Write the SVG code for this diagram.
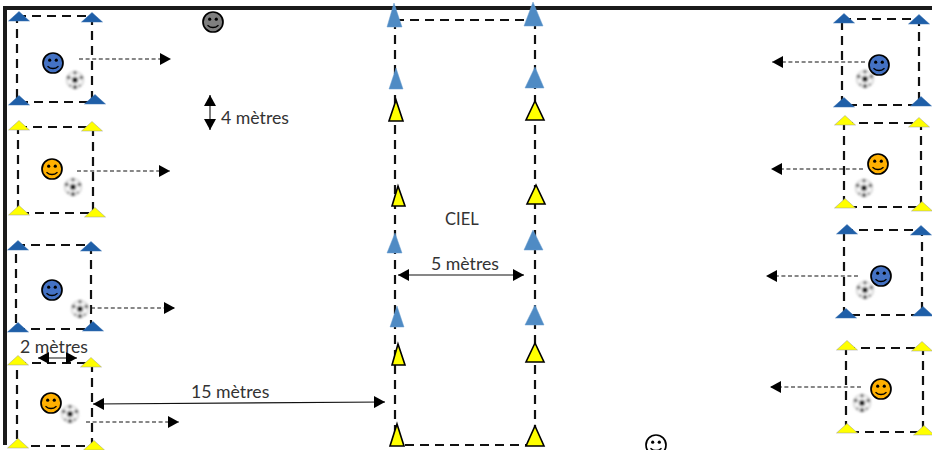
<svg xmlns="http://www.w3.org/2000/svg" width="932" height="450" viewBox="0 0 932 450">
<style>
text{font-family:Lato,"Open Sans","Liberation Sans",sans-serif;font-size:17.7px;fill:#333}
.d{fill:none;stroke:#111;stroke-width:2.2;stroke-dasharray:9 6}
.a{fill:none;stroke:#111;stroke-width:1.1;stroke-dasharray:4 2.6}
.s{fill:none;stroke:#111;stroke-width:1.1}
.b{fill:#1f5fa8;stroke:#3a70b0;stroke-width:.5}
.y{fill:#ff0;stroke:#999;stroke-width:.5}
.lb{fill:#4f8bc4;stroke:#6a9fd0;stroke-width:.5}
.yk{fill:#ff0;stroke:#000;stroke-width:1.6}
</style>
<defs>
<marker id="ah" markerWidth="12" markerHeight="12" refX="11" refY="6" orient="auto-start-reverse" markerUnits="userSpaceOnUse"><path d="M0 0L11 6L0 12Z" fill="#000"/></marker>
<filter id="blur" x="-20%" y="-20%" width="140%" height="140%"><feGaussianBlur stdDeviation="0.8"/></filter>
<g id="ball" filter="url(#blur)"><circle r="9.3" fill="#d8d8d8"/><circle r="7.8" fill="#f4f4f4"/><circle r="2.9" fill="#222"/><circle cx="-6.3" cy="-2.6" r="2" fill="#777"/><circle cx="6.3" cy="-2.6" r="2" fill="#777"/><circle cx="0" cy="7" r="2.2" fill="#666"/><circle cx="-4.6" cy="5.6" r="1.4" fill="#999"/><circle cx="4.6" cy="5.6" r="1.4" fill="#999"/><circle cx="0" cy="-7.2" r="2" fill="#888"/></g>
<g id="face"><circle r="10" stroke="#000" stroke-width="1.7"/><circle cx="-3.3" cy="-2.8" r="1.6" fill="#000"/><circle cx="3.3" cy="-2.8" r="1.6" fill="#000"/><path d="M-5.5 3.2Q0 8 5.5 3.2" fill="none" stroke="#000" stroke-width="1.4"/></g>
<path id="tb" d="M-10.5 0L0-9.5L10.5 0Z"/>
</defs>
<rect width="932" height="450" fill="#fff"/>
<g id="frame"><rect x="3" y="6" width="929" height="4" fill="#1a1a1a"/><rect x="3" y="6" width="4" height="439" fill="#1a1a1a"/></g>
<g id="connectors">
<path class="d" d="M17 16H92V102H17Z"/><path class="d" d="M18 127H93V213H18Z"/><path class="d" d="M16 245H91V329H16Z"/><path class="d" d="M17 363H92V446H17Z"/>
<path class="d" d="M842 19H919V105H842Z"/><path class="d" d="M844 123H921V207H844Z"/><path class="d" d="M844 230H922V315H844Z"/><path class="d" d="M846 348H923V432H846Z"/>
<path class="d" d="M395 20H535M395 20V445H535M535 20V445"/>
<path class="a" d="M79 59H171" marker-end="url(#ah)"/><path class="a" d="M77 171H170" marker-end="url(#ah)"/><path class="a" d="M91 308H175" marker-end="url(#ah)"/><path class="a" d="M86 422H179" marker-end="url(#ah)"/>
<path class="a" d="M865 62H772" marker-end="url(#ah)"/><path class="a" d="M863 169H771" marker-end="url(#ah)"/><path class="a" d="M858 276H766" marker-end="url(#ah)"/><path class="a" d="M861 387H770" marker-end="url(#ah)"/>
<path class="s" d="M210 95V130" marker-start="url(#ah)" marker-end="url(#ah)"/>
<path class="s" d="M38 358H77" marker-start="url(#ah)" marker-end="url(#ah)"/>
<path class="s" d="M93 404L385 402" marker-start="url(#ah)" marker-end="url(#ah)"/>
<path class="s" d="M398 275H524" marker-start="url(#ah)" marker-end="url(#ah)"/>
</g>
<g id="cones-left">
<use href="#tb" class="b" x="19" y="21"/><use href="#tb" class="b" x="92" y="22"/><use href="#tb" class="b" x="19" y="105"/><use href="#tb" class="b" x="95" y="104"/>
<use href="#tb" class="y" x="19" y="130"/><use href="#tb" class="y" x="92" y="131"/><use href="#tb" class="y" x="19" y="215"/><use href="#tb" class="y" x="95" y="217"/>
<use href="#tb" class="b" x="18" y="250"/><use href="#tb" class="b" x="91" y="251"/><use href="#tb" class="b" x="18" y="332"/><use href="#tb" class="b" x="93" y="331"/>
<use href="#tb" class="y" x="18" y="365"/><use href="#tb" class="y" x="91" y="367"/><use href="#tb" class="y" x="18" y="448"/><use href="#tb" class="y" x="94" y="450"/>
</g>
<g id="cones-right">
<use href="#tb" class="b" x="844" y="23"/><use href="#tb" class="b" x="919" y="24"/><use href="#tb" class="b" x="844" y="107"/><use href="#tb" class="b" x="921" y="106"/>
<use href="#tb" class="y" x="845" y="125"/><use href="#tb" class="y" x="919" y="127"/><use href="#tb" class="y" x="845" y="208"/><use href="#tb" class="y" x="922" y="211"/>
<use href="#tb" class="b" x="847" y="234"/><use href="#tb" class="b" x="921" y="235"/><use href="#tb" class="b" x="846" y="318"/><use href="#tb" class="b" x="923" y="316"/>
<use href="#tb" class="y" x="847" y="350"/><use href="#tb" class="y" x="922" y="351"/><use href="#tb" class="y" x="847" y="433"/><use href="#tb" class="y" x="924" y="435"/>
</g>
<g id="track-cones">
<path class="lb" d="M394 3L402 27H387Z"/><path class="lb" d="M533 2L543 26H524Z"/>
<path class="lb" d="M396 68L403 89H389Z"/><path class="lb" d="M535 67L544 88H525Z"/>
<path class="yk" d="M396 100L403 121H389Z"/><path class="yk" d="M535 101L544 120H526Z"/>
<path class="yk" d="M398 186L405 206H392Z"/><path class="yk" d="M536 185L545 204H527Z"/>
<path class="lb" d="M395 233L402 253H387Z"/><path class="lb" d="M533 230L543 250H524Z"/>
<path class="lb" d="M397 306L404 327H390Z"/><path class="lb" d="M535 305L544 325H525Z"/>
<path class="yk" d="M398 344L405 365H392Z"/><path class="yk" d="M535 343L544 362H526Z"/>
<path class="yk" d="M397 424L404 446H390Z"/><path class="yk" d="M535 426L544 446H526Z"/>
</g>
<g id="balls">
<use href="#ball" x="75" y="80"/><use href="#ball" x="73" y="187"/><use href="#ball" x="80" y="309"/><use href="#ball" x="70" y="414"/>
<use href="#ball" x="865" y="79"/><use href="#ball" x="864" y="188"/><use href="#ball" x="865" y="290"/><use href="#ball" x="862" y="403"/>
</g>
<g id="players">
<use href="#face" x="53" y="63" fill="#4472c4"/><use href="#face" x="52" y="169" fill="#ffb000"/><use href="#face" x="52" y="290" fill="#4472c4"/><use href="#face" x="51" y="403" fill="#ffb000"/>
<use href="#face" x="879" y="65" fill="#4472c4"/><use href="#face" x="878" y="164" fill="#ffb000"/><use href="#face" x="881" y="276" fill="#4472c4"/><use href="#face" x="881" y="389" fill="#ffb000"/>
<use href="#face" x="213" y="22" fill="#7f7f7f"/><use href="#face" x="656" y="445" fill="#fff"/>
</g>
<g id="labels">
<text x="221" y="123.5">4 mètres</text><text x="20" y="353">2 mètres</text><text x="191" y="398">15 mètres</text><text x="431" y="270">5 mètres</text><text x="445" y="225" style="font-size:16.5px">CIEL</text>
</g>
</svg>
